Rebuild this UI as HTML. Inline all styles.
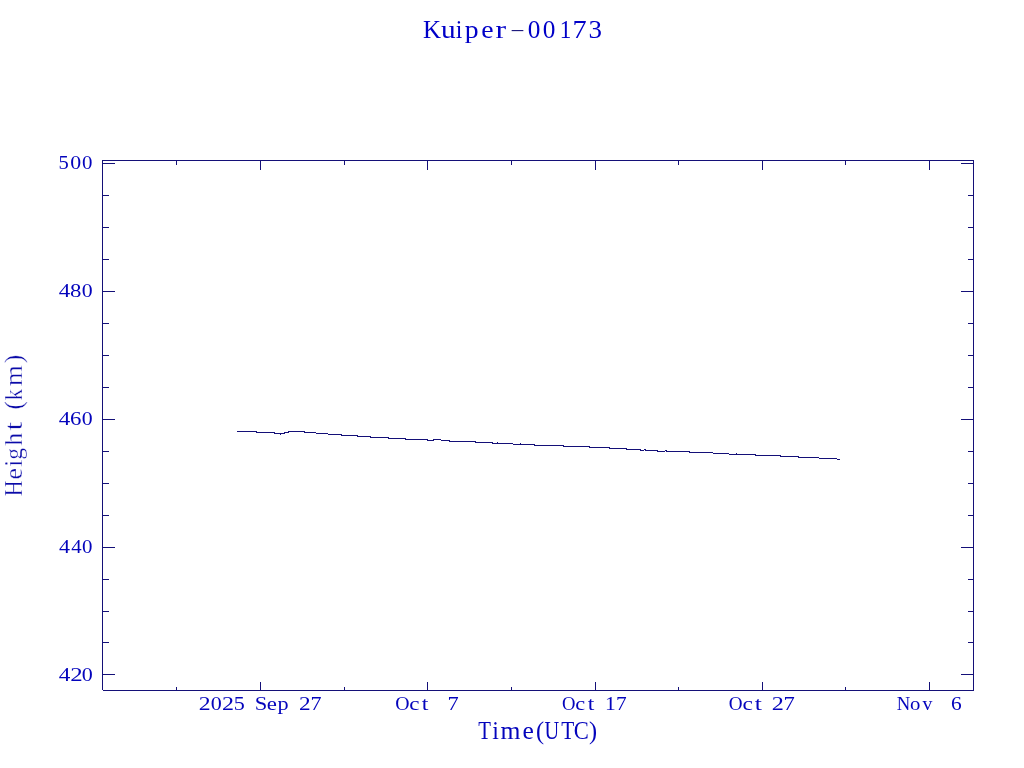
<!DOCTYPE html>
<html><head><meta charset="utf-8"><title>Kuiper-00173</title>
<style>
html,body{margin:0;padding:0;background:#fff;}
body{width:1024px;height:768px;overflow:hidden;}
svg{display:block;will-change:transform;}
text{font-family:"Liberation Serif","DejaVu Serif",serif;fill:#0404bc;white-space:pre;}
</style></head><body>
<svg width="1024" height="768" viewBox="0 0 1024 768">
<rect x="0" y="0" width="1024" height="768" fill="#fff"/>
<g fill="#141078" shape-rendering="crispEdges">
<rect x="102" y="160" width="872" height="1"/>
<rect x="103" y="690" width="871" height="1"/>
<rect x="102" y="160" width="1" height="530"/>
<rect x="973" y="160" width="1" height="531"/>
<rect x="103" y="163" width="12" height="1"/>
<rect x="961" y="163" width="12" height="1"/>
<rect x="103" y="195" width="6" height="1"/>
<rect x="968" y="195" width="5" height="1"/>
<rect x="103" y="227" width="6" height="1"/>
<rect x="968" y="227" width="5" height="1"/>
<rect x="103" y="259" width="6" height="1"/>
<rect x="968" y="259" width="5" height="1"/>
<rect x="103" y="291" width="12" height="1"/>
<rect x="961" y="291" width="12" height="1"/>
<rect x="103" y="323" width="6" height="1"/>
<rect x="968" y="323" width="5" height="1"/>
<rect x="103" y="355" width="6" height="1"/>
<rect x="968" y="355" width="5" height="1"/>
<rect x="103" y="387" width="6" height="1"/>
<rect x="968" y="387" width="5" height="1"/>
<rect x="103" y="419" width="12" height="1"/>
<rect x="961" y="419" width="12" height="1"/>
<rect x="103" y="451" width="6" height="1"/>
<rect x="968" y="451" width="5" height="1"/>
<rect x="103" y="483" width="6" height="1"/>
<rect x="968" y="483" width="5" height="1"/>
<rect x="103" y="515" width="6" height="1"/>
<rect x="968" y="515" width="5" height="1"/>
<rect x="103" y="547" width="12" height="1"/>
<rect x="961" y="547" width="12" height="1"/>
<rect x="103" y="579" width="6" height="1"/>
<rect x="968" y="579" width="5" height="1"/>
<rect x="103" y="611" width="6" height="1"/>
<rect x="968" y="611" width="5" height="1"/>
<rect x="103" y="642" width="6" height="1"/>
<rect x="968" y="642" width="5" height="1"/>
<rect x="103" y="674" width="12" height="1"/>
<rect x="961" y="674" width="12" height="1"/>
<rect x="260" y="161" width="1" height="9"/>
<rect x="260" y="682" width="1" height="8"/>
<rect x="427" y="161" width="1" height="9"/>
<rect x="427" y="682" width="1" height="8"/>
<rect x="595" y="161" width="1" height="9"/>
<rect x="595" y="682" width="1" height="8"/>
<rect x="762" y="161" width="1" height="9"/>
<rect x="762" y="682" width="1" height="8"/>
<rect x="929" y="161" width="1" height="9"/>
<rect x="929" y="682" width="1" height="8"/>
<rect x="176" y="161" width="1" height="4"/>
<rect x="176" y="687" width="1" height="3"/>
<rect x="344" y="161" width="1" height="4"/>
<rect x="344" y="687" width="1" height="3"/>
<rect x="511" y="161" width="1" height="4"/>
<rect x="511" y="687" width="1" height="3"/>
<rect x="678" y="161" width="1" height="4"/>
<rect x="678" y="687" width="1" height="3"/>
<rect x="845" y="161" width="1" height="4"/>
<rect x="845" y="687" width="1" height="3"/>
<rect x="237" y="431" width="20" height="1"/>
<rect x="256" y="432" width="19" height="1"/>
<rect x="274" y="433" width="11" height="1"/>
<rect x="280" y="434" width="1" height="1"/>
<rect x="284" y="432" width="5" height="1"/>
<rect x="288" y="431" width="17" height="1"/>
<rect x="304" y="432" width="12" height="1"/>
<rect x="316" y="433" width="12" height="1"/>
<rect x="328" y="434" width="14" height="1"/>
<rect x="341" y="435" width="17" height="1"/>
<rect x="357" y="436" width="14" height="1"/>
<rect x="370" y="437" width="19" height="1"/>
<rect x="388" y="438" width="18" height="1"/>
<rect x="405" y="439" width="23" height="1"/>
<rect x="427" y="440" width="7" height="1"/>
<rect x="433" y="439" width="8" height="1"/>
<rect x="441" y="440" width="9" height="1"/>
<rect x="449" y="441" width="27" height="1"/>
<rect x="475" y="442" width="18" height="1"/>
<rect x="492" y="443" width="21" height="1"/>
<rect x="497" y="442" width="1" height="1"/>
<rect x="513" y="444" width="22" height="1"/>
<rect x="520" y="443" width="1" height="1"/>
<rect x="534" y="445" width="30" height="1"/>
<rect x="563" y="446" width="27" height="1"/>
<rect x="589" y="447" width="21" height="1"/>
<rect x="609" y="448" width="18" height="1"/>
<rect x="626" y="449" width="15" height="1"/>
<rect x="640" y="450" width="4" height="1"/>
<rect x="644" y="449" width="2" height="1"/>
<rect x="645" y="450" width="13" height="1"/>
<rect x="657" y="451" width="8" height="1"/>
<rect x="665" y="450" width="2" height="1"/>
<rect x="666" y="451" width="24" height="1"/>
<rect x="689" y="452" width="24" height="1"/>
<rect x="713" y="453" width="16" height="1"/>
<rect x="729" y="454" width="27" height="1"/>
<rect x="736" y="453" width="1" height="1"/>
<rect x="755" y="455" width="26" height="1"/>
<rect x="780" y="456" width="19" height="1"/>
<rect x="798" y="457" width="21" height="1"/>
<rect x="819" y="458" width="18" height="1"/>
<rect x="837" y="459" width="3" height="1"/>
</g>
<g>
<text y="38" font-size="26" style="fill:#0000c8"><tspan x="423.01" textLength="17.98" lengthAdjust="spacingAndGlyphs">K</tspan><tspan x="441.12" textLength="14.65" lengthAdjust="spacingAndGlyphs">u</tspan><tspan x="455.76" textLength="6.6" lengthAdjust="spacingAndGlyphs">i</tspan><tspan x="464.73" textLength="13.85" lengthAdjust="spacingAndGlyphs">p</tspan><tspan x="481.34" textLength="12.34" lengthAdjust="spacingAndGlyphs">e</tspan><tspan x="495.4" textLength="10.6" lengthAdjust="spacingAndGlyphs">r</tspan><tspan x="510" dy="-4" font-size="14" textLength="15" lengthAdjust="spacingAndGlyphs" style="fill:#141078">-</tspan><tspan x="527.63" dy="4" textLength="12.65" lengthAdjust="spacingAndGlyphs">0</tspan><tspan x="542.73" textLength="12.65" lengthAdjust="spacingAndGlyphs">0</tspan><tspan x="559.68" textLength="11.55" lengthAdjust="spacingAndGlyphs">1</tspan><tspan x="572.47" textLength="14.16" lengthAdjust="spacingAndGlyphs">7</tspan><tspan x="588.45" textLength="13.5" lengthAdjust="spacingAndGlyphs">3</tspan></text>
<text y="169" font-size="19"><tspan x="58.64" textLength="10.27" lengthAdjust="spacingAndGlyphs">5</tspan><tspan x="70.26" textLength="10.91" lengthAdjust="spacingAndGlyphs">0</tspan><tspan x="82.1" textLength="10.45" lengthAdjust="spacingAndGlyphs">0</tspan></text>
<text y="297" font-size="19"><tspan x="58.85" textLength="11.51" lengthAdjust="spacingAndGlyphs">4</tspan><tspan x="70" textLength="11.4" lengthAdjust="spacingAndGlyphs">8</tspan><tspan x="81.86" textLength="10.91" lengthAdjust="spacingAndGlyphs">0</tspan></text>
<text y="425" font-size="19"><tspan x="58.85" textLength="11.51" lengthAdjust="spacingAndGlyphs">4</tspan><tspan x="70" textLength="11.4" lengthAdjust="spacingAndGlyphs">6</tspan><tspan x="81.86" textLength="10.91" lengthAdjust="spacingAndGlyphs">0</tspan></text>
<text y="553" font-size="19"><tspan x="59.08" textLength="11.02" lengthAdjust="spacingAndGlyphs">4</tspan><tspan x="71.18" textLength="10.4" lengthAdjust="spacingAndGlyphs">4</tspan><tspan x="82.1" textLength="10.45" lengthAdjust="spacingAndGlyphs">0</tspan></text>
<text y="681" font-size="19"><tspan x="58.8" textLength="11.61" lengthAdjust="spacingAndGlyphs">4</tspan><tspan x="70.21" textLength="12.43" lengthAdjust="spacingAndGlyphs">2</tspan><tspan x="81.8" textLength="11.02" lengthAdjust="spacingAndGlyphs">0</tspan></text>
<text y="710" font-size="19"><tspan x="198.77" textLength="11.84" lengthAdjust="spacingAndGlyphs">2</tspan><tspan x="210.74" textLength="11.04" lengthAdjust="spacingAndGlyphs">0</tspan><tspan x="221.92" textLength="12" lengthAdjust="spacingAndGlyphs">2</tspan><tspan x="233.84" textLength="11.04" lengthAdjust="spacingAndGlyphs">5</tspan> <tspan x="254.71" textLength="12.56" lengthAdjust="spacingAndGlyphs">S</tspan><tspan x="266.65" textLength="10.13" lengthAdjust="spacingAndGlyphs">e</tspan><tspan x="277.46" textLength="11.1" lengthAdjust="spacingAndGlyphs">p</tspan> <tspan x="299.1" textLength="11.61" lengthAdjust="spacingAndGlyphs">2</tspan><tspan x="310.54" textLength="11.04" lengthAdjust="spacingAndGlyphs">7</tspan></text>
<text y="710" font-size="19"><tspan x="395.16" textLength="14.31" lengthAdjust="spacingAndGlyphs">O</tspan><tspan x="409.15" textLength="10.23" lengthAdjust="spacingAndGlyphs">c</tspan><tspan x="421.77" textLength="6.65" lengthAdjust="spacingAndGlyphs">t</tspan>  <tspan x="447.56" textLength="11.2" lengthAdjust="spacingAndGlyphs">7</tspan></text>
<text y="710" font-size="19"><tspan x="562.03" textLength="13.48" lengthAdjust="spacingAndGlyphs">O</tspan><tspan x="575.37" textLength="9.9" lengthAdjust="spacingAndGlyphs">c</tspan><tspan x="587.71" textLength="6.59" lengthAdjust="spacingAndGlyphs">t</tspan> <tspan x="604.93" textLength="10.77" lengthAdjust="spacingAndGlyphs">1</tspan><tspan x="615.94" textLength="10.67" lengthAdjust="spacingAndGlyphs">7</tspan></text>
<text y="710" font-size="19"><tspan x="728.7" textLength="13.83" lengthAdjust="spacingAndGlyphs">O</tspan><tspan x="742.47" textLength="10.37" lengthAdjust="spacingAndGlyphs">c</tspan><tspan x="754.75" textLength="7.13" lengthAdjust="spacingAndGlyphs">t</tspan> <tspan x="771.68" textLength="12.07" lengthAdjust="spacingAndGlyphs">2</tspan><tspan x="783.46" textLength="11.29" lengthAdjust="spacingAndGlyphs">7</tspan></text>
<text y="710" font-size="19"><tspan x="896.66" textLength="13.52" lengthAdjust="spacingAndGlyphs">N</tspan><tspan x="910.1" textLength="10.35" lengthAdjust="spacingAndGlyphs">o</tspan><tspan x="922.6" textLength="9.92" lengthAdjust="spacingAndGlyphs">v</tspan>  <tspan x="950.92" textLength="10.7" lengthAdjust="spacingAndGlyphs">6</tspan></text>
<text y="739" font-size="25"><tspan x="478.26" textLength="12.7" lengthAdjust="spacingAndGlyphs">T</tspan><tspan x="492.14" textLength="6.67" lengthAdjust="spacingAndGlyphs">i</tspan><tspan x="500.6" textLength="19.94" lengthAdjust="spacingAndGlyphs">m</tspan><tspan x="522.58" textLength="11.36" lengthAdjust="spacingAndGlyphs">e</tspan><tspan x="536.06" textLength="8.09" lengthAdjust="spacingAndGlyphs">(</tspan><tspan x="544.39" textLength="14.67" lengthAdjust="spacingAndGlyphs">U</tspan><tspan x="561.17" textLength="13" lengthAdjust="spacingAndGlyphs">T</tspan><tspan x="573.82" textLength="15.07" lengthAdjust="spacingAndGlyphs">C</tspan><tspan x="588.96" textLength="8.09" lengthAdjust="spacingAndGlyphs">)</tspan></text>
<text transform="translate(22 495) rotate(-90)" y="0" font-size="25" stroke="#fff" stroke-width="0.35" style="fill:#0a0aa8"><tspan x="-1.45" textLength="16.16" lengthAdjust="spacingAndGlyphs">H</tspan><tspan x="15.42" textLength="11.47" lengthAdjust="spacingAndGlyphs">e</tspan><tspan x="28.19" textLength="6.88" lengthAdjust="spacingAndGlyphs">i</tspan><tspan x="35.15" textLength="11.74" lengthAdjust="spacingAndGlyphs">g</tspan><tspan x="49.17" textLength="12.95" lengthAdjust="spacingAndGlyphs">h</tspan><tspan x="64.57" textLength="8.8" lengthAdjust="spacingAndGlyphs">t</tspan> <tspan x="85.5" textLength="8.33" lengthAdjust="spacingAndGlyphs">(</tspan><tspan x="94.49" textLength="11.56" lengthAdjust="spacingAndGlyphs">k</tspan><tspan x="108.93" textLength="20.66" lengthAdjust="spacingAndGlyphs">m</tspan><tspan x="132.1" textLength="8.33" lengthAdjust="spacingAndGlyphs">)</tspan></text>
</g>
</svg>
</body></html>
